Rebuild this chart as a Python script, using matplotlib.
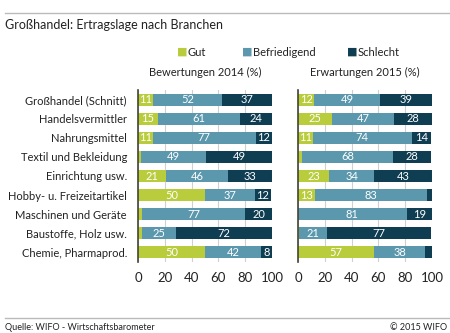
import matplotlib
matplotlib.use('Agg')
import matplotlib.pyplot as plt
from matplotlib.lines import Line2D

plt.rcParams['font.family'] = ['Lato', 'DejaVu Sans']

# Данные
branchen = ['Großhandel (Schnitt)', 'Handelsvermittler', 'Nahrungsmittel',
            'Textil und Bekleidung', 'Einrichtung usw.', 'Hobby- u. Freizeitartikel',
            'Maschinen und Geräte', 'Baustoffe, Holz usw.', 'Chemie, Pharmaprod.']
kategorien = ['Gut', 'Befriedigend', 'Schlecht']
farben = ['#b8cc3c', '#5b97ad', '#0f3d52']

gut_2014 = [11, 15, 11, 2, 21, 50, 3, 3, 50]
bef_2014 = [52, 61, 77, 49, 46, 37, 77, 25, 42]
sch_2014 = [37, 24, 12, 49, 33, 12, 20, 72, 8]

gut_2015 = [12, 25, 11, 3, 23, 13, 0, 1, 57]
bef_2015 = [49, 47, 74, 68, 34, 83, 81, 21, 38]
sch_2015 = [39, 28, 14, 28, 43, 4, 19, 77, 5]

ticks = [0, 20, 40, 60, 80, 100]

fig = plt.figure(figsize=(4.5, 3.33), dpi=100)

# Линии сверху и снизу
fig.add_artist(Line2D([5 / 450, 1], [1 - 13 / 333] * 2, color='#bbbbbb', lw=1))
fig.add_artist(Line2D([5 / 450, 1], [1 - 318 / 333] * 2, color='#bbbbbb', lw=1))

fig.text(5 / 450, 1 - 25 / 333, 'Großhandel: Ertragslage nach Branchen',
         fontsize=9, va='center', color='#222222')
fig.text(5 / 450, 1 - 327 / 333, 'Quelle: WIFO - Wirtschaftsbarometer',
         fontsize=6.5, va='center', color='#222222')
fig.text(447 / 450, 1 - 327 / 333, '© 2015 WIFO',
         fontsize=6.5, va='center', ha='right', color='#222222')

# Легенда
for x, name, col in zip([182, 247, 352], kategorien, farben):
    fig.text(x / 450, 1 - 52 / 333, '■', color=col, fontsize=8, va='center',
             ha='center', family='DejaVu Sans')
    fig.text((x + 6) / 450, 1 - 52 / 333, name, fontsize=8, va='center',
             color='#222222')


def panel(left, daten, titel, mit_labels):
    ax = fig.add_axes([left / 450, 71 / 333, 134 / 450, 172 / 333])
    y = list(range(len(branchen)))
    start = [0] * len(branchen)
    for werte, col in zip(daten, farben):
        ax.barh(y, werte, left=start, height=0.63, color=col, zorder=2)
        for i, v in enumerate(werte):
            if v > 5:
                ax.text(start[i] + v / 2, i, str(v), color='white', fontsize=8,
                        ha='center', va='center', zorder=3)
        start = [s + v for s, v in zip(start, werte)]
    ax.set_xlim(0, 100)
    ax.set_ylim(len(branchen) - 0.5, -0.5)
    ax.set_xticks(ticks)
    ax.tick_params(axis='x', length=0, labelsize=9.5, pad=7, labelcolor='#222222')
    ax.grid(axis='x', color='#d0d0d0', lw=0.8, zorder=0)
    for s in ['top', 'right', 'bottom']:
        ax.spines[s].set_visible(False)
    ax.spines['left'].set_color('#444433')
    ax.spines['left'].set_linewidth(1.2)
    ax.spines['left'].set_zorder(4)
    if mit_labels:
        ax.set_yticks(y)
        ax.set_yticklabels(branchen, fontsize=8, color='#222222')
        ax.tick_params(axis='y', length=0, pad=8)
    else:
        ax.set_yticks([])
    ax.set_title(titel, fontsize=8, color='#222222', pad=10)
    return ax


panel(138, [gut_2014, bef_2014, sch_2014], 'Bewertungen 2014 (%)', True)
panel(298, [gut_2015, bef_2015, sch_2015], 'Erwartungen 2015 (%)', False)

plt.savefig('out.png', dpi=100)
